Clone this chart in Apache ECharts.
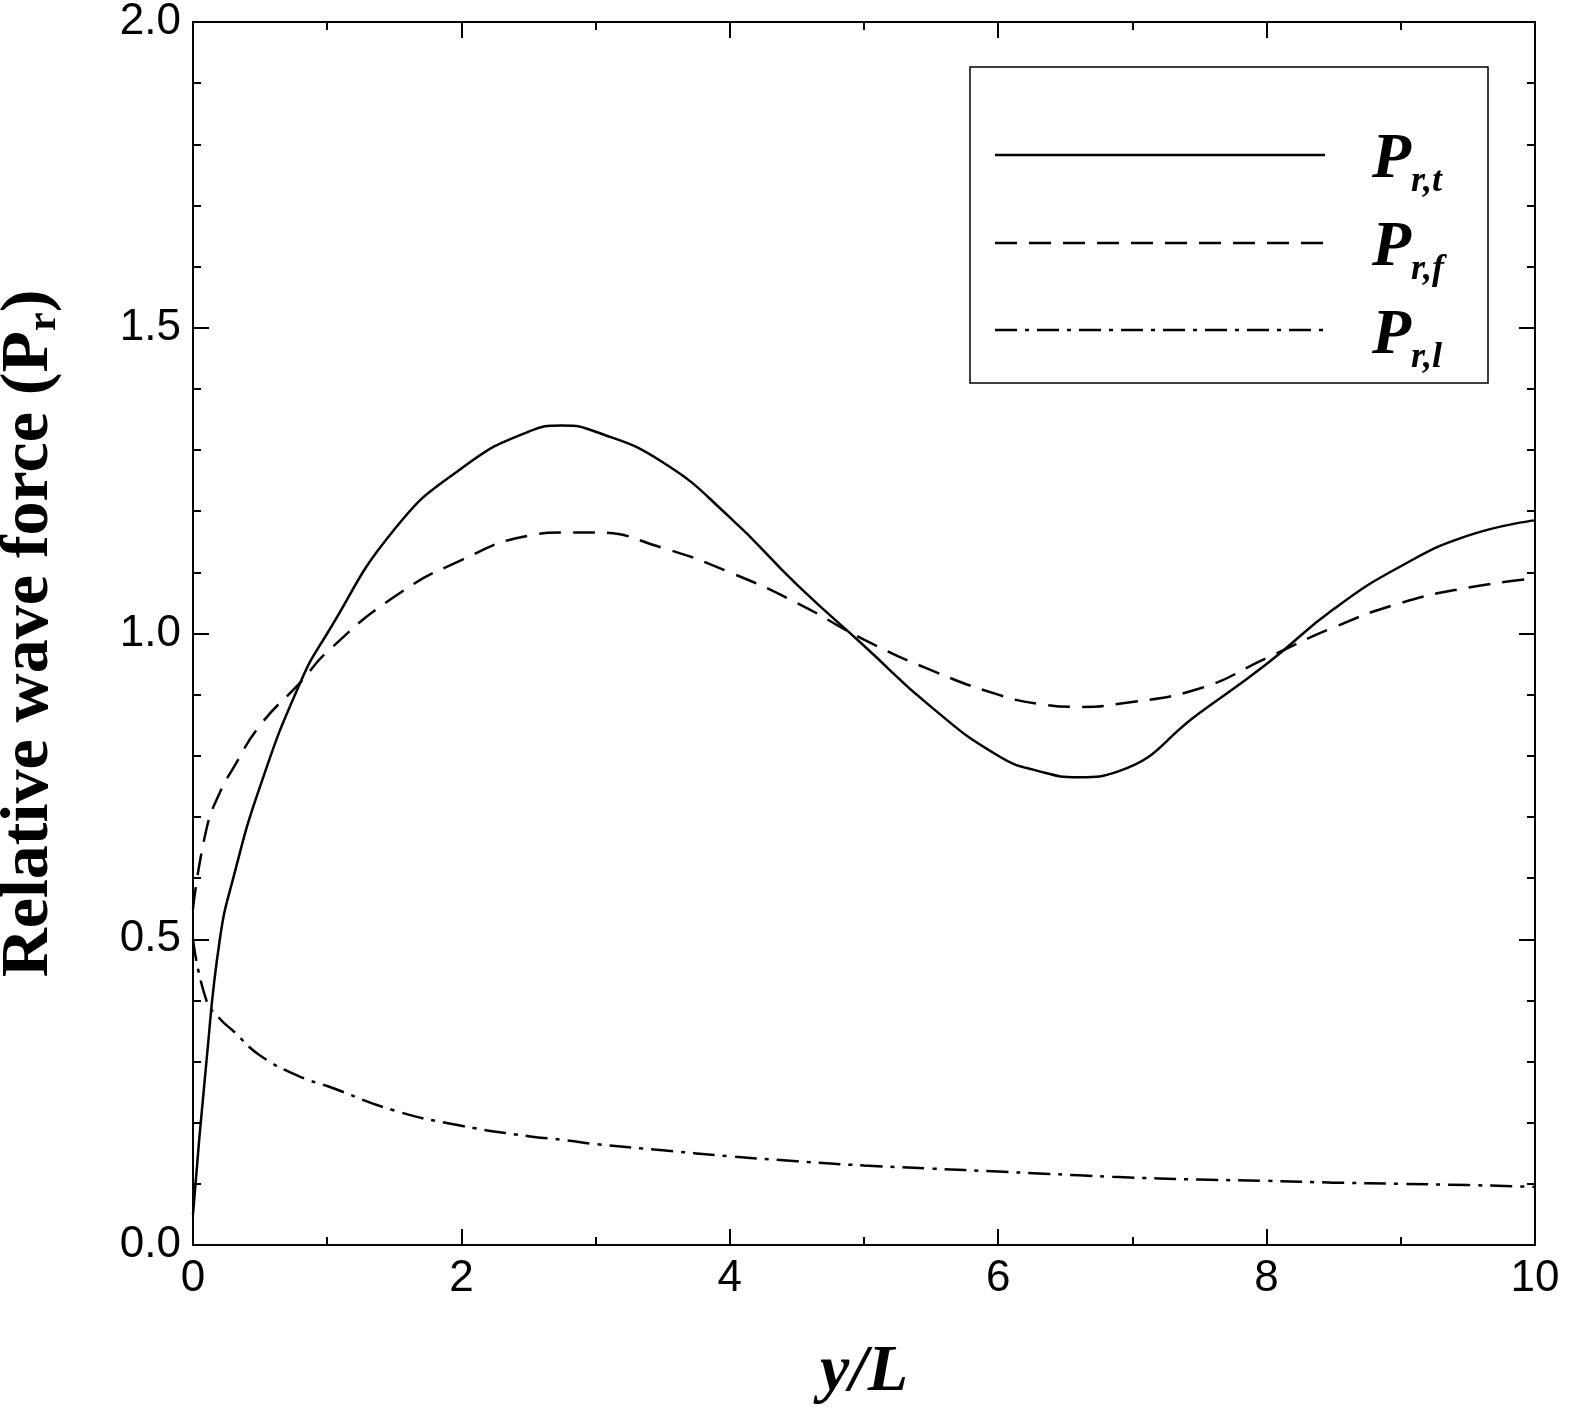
<!DOCTYPE html>
<html><head><meta charset="utf-8">
<script src="https://cdn.jsdelivr.net/npm/echarts@6/dist/echarts.min.js"></script>
<style>html,body{margin:0;background:#fff}#main{width:1582px;height:1410px}</style>
</head><body><div id="main"></div>
<script>
var xs = [0, 0.1, 0.2, 0.3, 0.5, 0.8, 1.0, 1.5, 2.0, 2.5, 2.75, 3.0, 3.5, 4.0, 4.5, 5.0, 5.5, 6.0, 6.3, 6.6, 6.9, 7.5, 8.0, 8.5, 9.0, 9.5, 10];
var total = [0.05, 0.3, 0.5, 0.6, 0.75, 0.92, 1.0, 1.17, 1.27, 1.33, 1.34, 1.33, 1.28, 1.19, 1.08, 0.98, 0.88, 0.80, 0.775, 0.765, 0.775, 0.87, 0.95, 1.04, 1.11, 1.16, 1.185];
var front = [0.55, 0.68, 0.74, 0.78, 0.85, 0.92, 0.97, 1.06, 1.12, 1.16, 1.165, 1.165, 1.14, 1.10, 1.05, 0.99, 0.94, 0.90, 0.885, 0.88, 0.885, 0.91, 0.96, 1.01, 1.05, 1.075, 1.09];
var lateral = [0.5, 0.4, 0.37, 0.35, 0.31, 0.275, 0.26, 0.22, 0.195, 0.178, 0.172, 0.165, 0.155, 0.145, 0.137, 0.13, 0.125, 0.12, 0.117, 0.114, 0.111, 0.107, 0.105, 0.102, 0.1, 0.098, 0.095];

function pairs(ys) { return xs.map(function (x, i) { return [x, ys[i]]; }); }

var chart = echarts.init(document.getElementById('main'));
var lbl = { fontFamily: 'Arial', fontSize: 44, color: '#000' };
var line = { onZero: false, lineStyle: { color: '#000', width: 2 } };
var tick = { inside: true, length: 16, lineStyle: { color: '#000', width: 2 } };
var minor = { show: true, length: 8, lineStyle: { color: '#000', width: 2 } };

function series(ys, type) {
  return { type: 'line', data: pairs(ys), smooth: 0.5, symbol: 'none',
    lineStyle: { color: '#000', width: 2.5, type: type } };
}

chart.setOption({
  animation: false,
  grid: { left: 193, right: 47, top: 22, bottom: 165, containLabel: false, outerBoundsMode: 'none' },
  xAxis: [
    { type: 'value', min: 0, max: 10, interval: 2, axisLine: line, axisTick: tick,
      minorTick: Object.assign({ splitNumber: 2 }, minor), splitLine: { show: false },
      axisLabel: Object.assign({ margin: 12 }, lbl),
      name: 'y/L', nameLocation: 'middle', nameGap: 95,
      nameTextStyle: { fontFamily: 'Times New Roman, Liberation Serif', fontSize: 66, fontWeight: 'bold', fontStyle: 'italic', color: '#000' } },
    { type: 'value', position: 'top', min: 0, max: 10, interval: 2, axisLine: line, axisTick: tick,
      minorTick: Object.assign({ splitNumber: 2 }, minor), splitLine: { show: false }, axisLabel: { show: false } }
  ],
  yAxis: [
    { type: 'value', min: 0, max: 2, interval: 0.5, axisLine: line, axisTick: tick,
      minorTick: Object.assign({ splitNumber: 5 }, minor), splitLine: { show: false },
      axisLabel: Object.assign({ margin: 12, formatter: function (v) { return v.toFixed(1); } }, lbl),
      name: '{a|Relative wave force (P}{s|r}{a|)}', nameLocation: 'middle', nameGap: 128,
      nameTextStyle: { rich: {
        a: { fontFamily: 'Times New Roman, Liberation Serif', fontSize: 68, fontWeight: 'bold', color: '#000' },
        s: { fontFamily: 'Times New Roman, Liberation Serif', fontSize: 42, fontWeight: 'bold', color: '#000', verticalAlign: 'bottom', padding: [30, 0, 0, 0] } } } },
    { type: 'value', position: 'right', min: 0, max: 2, interval: 0.5, axisLine: line, axisTick: tick,
      minorTick: Object.assign({ splitNumber: 5 }, minor), splitLine: { show: false }, axisLabel: { show: false } }
  ],
  series: [series(total, 'solid'), series(front, [22, 12]), series(lateral, [22, 8, 4, 8]),
    { type: 'line', xAxisIndex: 1, yAxisIndex: 1, data: [], symbol: 'none' }],
  graphic: [
    { type: 'rect', shape: { x: 970, y: 67, width: 518, height: 316 }, style: { fill: '#fff', stroke: '#000', lineWidth: 1.5 } },
    { type: 'line', shape: { x1: 995, y1: 155, x2: 1325, y2: 155 }, style: { stroke: '#000', lineWidth: 2.5 } },
    { type: 'line', shape: { x1: 995, y1: 243, x2: 1325, y2: 243 }, style: { stroke: '#000', lineWidth: 2.5, lineDash: [22, 12] } },
    { type: 'line', shape: { x1: 995, y1: 330, x2: 1325, y2: 330 }, style: { stroke: '#000', lineWidth: 2.5, lineDash: [22, 8, 4, 8] } }
  ].concat(['r,t', 'r,f', 'r,l'].map(function (s, i) {
    return { type: 'text', x: 1372, y: 120 + i * 88, style: {
      text: '{p|P}{s|' + s + '}', rich: {
        p: { fontFamily: 'Times New Roman, Liberation Serif', fontSize: 64, fontWeight: 'bold', fontStyle: 'italic', fill: '#000' },
        s: { fontFamily: 'Times New Roman, Liberation Serif', fontSize: 36, fontWeight: 'bold', fontStyle: 'italic', fill: '#000', padding: [44, 0, 0, 0] } } } };
  }))
});
</script></body></html>
